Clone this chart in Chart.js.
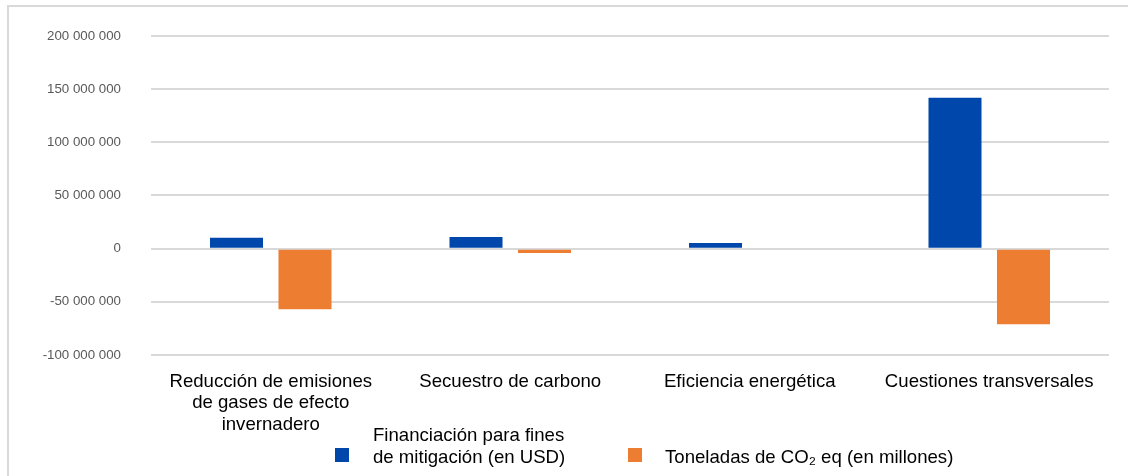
<!DOCTYPE html>
<html>
<head>
<meta charset="utf-8">
<script src="https://cdn.jsdelivr.net/npm/chart.js@4"></script>
<style>
  body { margin: 0; background: #fff; font-family: "Liberation Sans", Arial, sans-serif; overflow: hidden; }
  #marco { position: absolute; left: 7px; top: 5px; width: 1200px; height: 520px; border: 2px solid #d9d9d9; box-sizing: border-box; }
  #contenedor { position: absolute; left: 0; top: -2px; width: 1128px; height: 476px; }
  .leyenda { position: absolute; font-size: 18.6px; line-height: 21.5px; color: #000; }
  .cuadro { position: absolute; width: 14px; height: 14px; }
</style>
</head>
<body>
<div id="marco"></div>
<div id="contenedor"><canvas id="grafico" width="1128" height="476"></canvas></div>
<div class="cuadro" style="left:335px;top:448px;background:#0047AB"></div>
<div class="leyenda" style="left:373px;top:424px">Financiación para fines<br>de mitigación (en USD)</div>
<div class="cuadro" style="left:628px;top:448px;background:#ED7D31"></div>
<div class="leyenda" style="left:665px;top:446px">Toneladas de CO₂ eq (en millones)</div>
<script>
var categorias = [
    ['Reducción de emisiones', 'de gases de efecto', 'invernadero'],
    'Secuestro de carbono',
    'Eficiencia energética',
    'Cuestiones transversales'
];
var financiacion = [10300000, 11000000, 5300000, 142000000];
var toneladas = [-57000000, -4000000, 0, -71000000];
var etiquetasY = [-100000000, -50000000, 0, 50000000, 100000000, 150000000, 200000000];

function formato(v) {
    var s = Math.abs(v).toString().replace(/\B(?=(\d{3})+(?!\d))/g, ' ');
    return (v < 0 ? '-' : '') + s;
}

var ctx = document.getElementById('grafico');
var chart = new Chart(ctx, {
    type: 'bar',
    data: {
        labels: categorias,
        datasets: [{
            label: 'Financiación para fines de mitigación (en USD)',
            data: financiacion,
            backgroundColor: '#0047AB',
            categoryPercentage: 0.572,
            barPercentage: 0.774
        }, {
            label: 'Toneladas de CO₂ eq (en millones)',
            data: toneladas,
            backgroundColor: '#ED7D31',
            categoryPercentage: 0.572,
            barPercentage: 0.774
        }]
    },
    options: {
        responsive: false,
        animation: false,
        layout: { padding: { top: 28, right: 19, bottom: 0, left: 0 } },
        plugins: {
            legend: { display: false },
            tooltip: { enabled: false }
        },
        scales: {
            x: {
                grid: { display: false, drawTicks: false },
                border: { display: false },
                ticks: {
                    color: '#000',
                    font: { family: '"Liberation Sans", Arial, sans-serif', size: 18.6, lineHeight: 1.156 },
                    padding: 16,
                    maxRotation: 0,
                    autoSkip: false
                },
                afterFit: function (scale) { scale.height = 119; }
            },
            y: {
                min: -100000000,
                max: 200000000,
                afterBuildTicks: function (scale) {
                    scale.ticks = etiquetasY.map(function (v) { return { value: v }; });
                },
                grid: { color: '#d9d9d9', lineWidth: 2, drawTicks: false },
                border: { display: false },
                ticks: {
                    color: '#595959',
                    font: { family: '"Liberation Sans", Arial, sans-serif', size: 13.3 },
                    padding: 30,
                    callback: function (v) { return formato(v); }
                },
                afterFit: function (scale) { scale.width = 151; }
            }
        }
    }
});
</script>
</body>
</html>
